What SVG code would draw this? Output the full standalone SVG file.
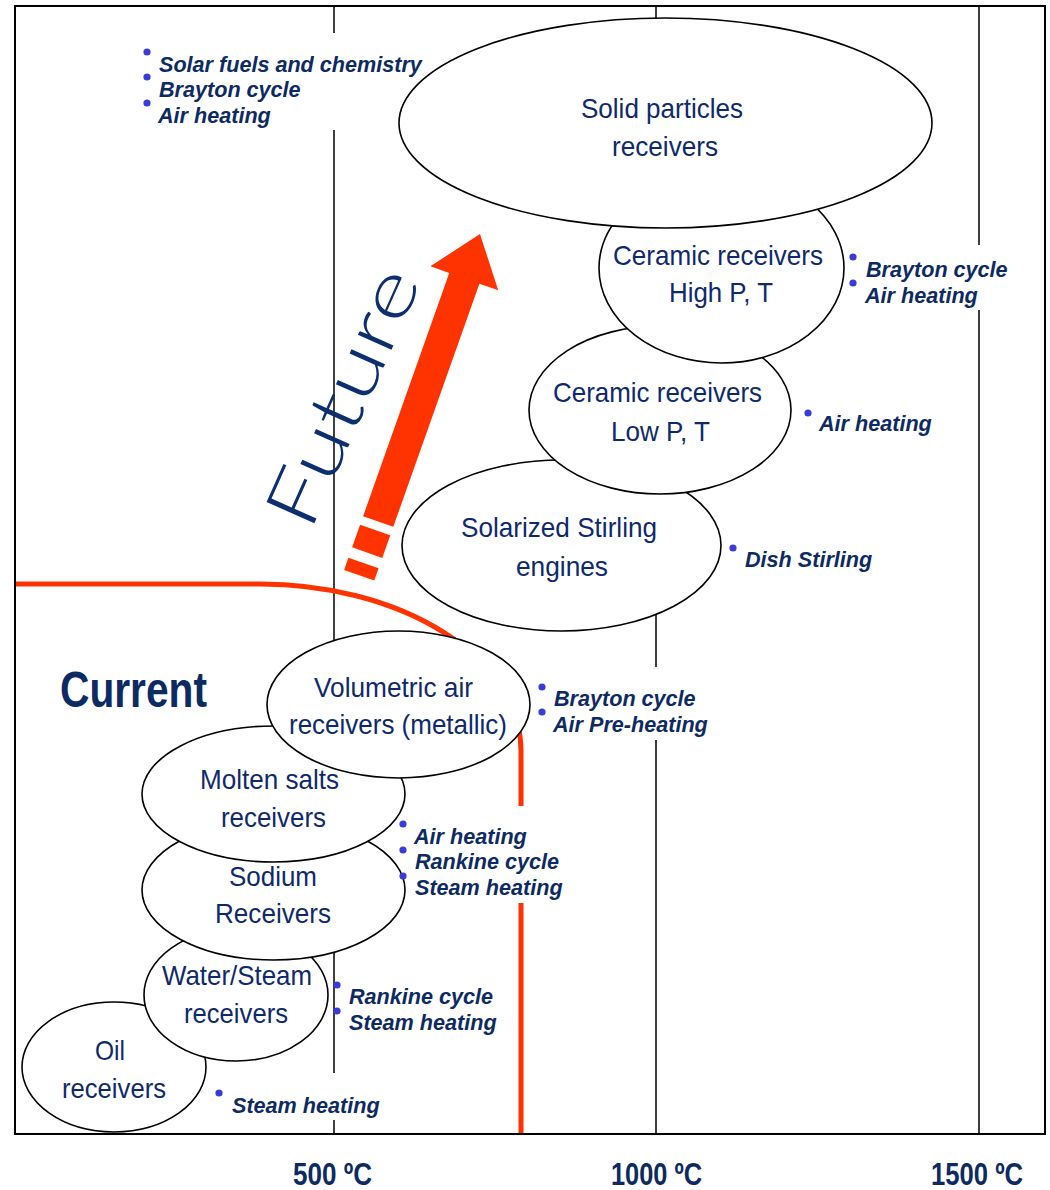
<svg xmlns="http://www.w3.org/2000/svg" width="1050" height="1190" viewBox="0 0 1050 1190">
  <style>
    .grid { stroke: #000; stroke-width: 1.5; fill: none; }
    .limit { stroke: #ff3300; stroke-width: 5; fill: none; }
    .node ellipse { fill: #fff; stroke: #000; stroke-width: 1.6; }
    .nt { font-family: "Liberation Sans", Arial, sans-serif; font-size: 28.5px; fill: #0f2a6b; text-anchor: middle; }
    .lb { font-family: "Liberation Sans", Arial, sans-serif; font-size: 21.6px; font-weight: bold; font-style: italic; fill: #0d2a62; }
    .dot { fill: #3b3bd6; }
    .ax { font-family: "Liberation Sans", Arial, sans-serif; font-size: 32px; font-weight: bold; fill: #0d2a62; text-anchor: middle; }
  </style>

  <rect width="1050" height="1190" fill="#fff"/>

  <!-- temperature grid lines and the current/future boundary -->
  <g id="connectors">
    <path class="grid" d="M334,6 V33 M334,130 V1073 M334,1120 V1134"/>
    <path class="grid" d="M656,6 V667 M656,740 V1134"/>
    <path class="grid" d="M979,6 V245 M979,310 V1134"/>
    <path class="limit" d="M15,584 H260 A261,167 0 0 1 521,751 V806 M521,903 V1134"/>
  </g>

  <!-- receiver technologies, lowest temperature first so upper ones overlap -->
  <g id="oil" class="node">
    <ellipse cx="114" cy="1067" rx="92" ry="65"/>
    <text class="nt" x="110" y="1060" textLength="30" lengthAdjust="spacingAndGlyphs">Oil</text>
    <text class="nt" x="114" y="1098" textLength="104" lengthAdjust="spacingAndGlyphs">receivers</text>
  </g>
  <g id="water-steam" class="node">
    <ellipse cx="236" cy="995" rx="92" ry="66"/>
    <text class="nt" x="237" y="985" textLength="150" lengthAdjust="spacingAndGlyphs">Water/Steam</text>
    <text class="nt" x="236" y="1023" textLength="104" lengthAdjust="spacingAndGlyphs">receivers</text>
  </g>
  <g id="sodium" class="node">
    <ellipse cx="273.5" cy="890" rx="131.5" ry="70"/>
    <text class="nt" x="273" y="886" textLength="88" lengthAdjust="spacingAndGlyphs">Sodium</text>
    <text class="nt" x="273" y="923" textLength="116" lengthAdjust="spacingAndGlyphs">Receivers</text>
  </g>
  <g id="molten-salts" class="node">
    <ellipse cx="273.5" cy="794" rx="131.5" ry="68"/>
    <text class="nt" x="269.5" y="789" textLength="139" lengthAdjust="spacingAndGlyphs">Molten salts</text>
    <text class="nt" x="273.5" y="827" textLength="105" lengthAdjust="spacingAndGlyphs">receivers</text>
  </g>
  <g id="volumetric" class="node">
    <ellipse cx="398.5" cy="704.5" rx="131.5" ry="73.5"/>
    <text class="nt" x="393.5" y="697" textLength="159" lengthAdjust="spacingAndGlyphs">Volumetric air</text>
    <text class="nt" x="398" y="734" textLength="218" lengthAdjust="spacingAndGlyphs">receivers (metallic)</text>
  </g>
  <g id="stirling" class="node">
    <ellipse cx="561.5" cy="545.5" rx="159.5" ry="85.5"/>
    <text class="nt" x="559" y="537" textLength="196" lengthAdjust="spacingAndGlyphs">Solarized Stirling</text>
    <text class="nt" x="562" y="576" textLength="92" lengthAdjust="spacingAndGlyphs">engines</text>
  </g>
  <g id="ceramic-low" class="node">
    <ellipse cx="660" cy="410" rx="131" ry="84"/>
    <text class="nt" x="657.5" y="402" textLength="209" lengthAdjust="spacingAndGlyphs">Ceramic receivers</text>
    <text class="nt" x="660.5" y="441" textLength="99" lengthAdjust="spacingAndGlyphs">Low P, T</text>
  </g>
  <g id="ceramic-high" class="node">
    <ellipse cx="721.5" cy="268" rx="122.5" ry="95"/>
    <text class="nt" x="718" y="265" textLength="210" lengthAdjust="spacingAndGlyphs">Ceramic receivers</text>
    <text class="nt" x="721" y="302" textLength="104" lengthAdjust="spacingAndGlyphs">High P, T</text>
  </g>
  <g id="solid-particles" class="node">
    <ellipse cx="665.5" cy="123" rx="266.5" ry="105"/>
    <text class="nt" x="662" y="118" textLength="162" lengthAdjust="spacingAndGlyphs">Solid particles</text>
    <text class="nt" x="665" y="156" textLength="106" lengthAdjust="spacingAndGlyphs">receivers</text>
  </g>

  <!-- applications of each receiver type -->
  <g id="uses-solid">
    <circle class="dot" cx="147" cy="52" r="3.6"/>
    <circle class="dot" cx="147" cy="77" r="3.6"/>
    <circle class="dot" cx="147" cy="103" r="3.6"/>
    <text class="lb" x="159" y="72">Solar fuels and chemistry</text>
    <text class="lb" x="159" y="97">Brayton cycle</text>
    <text class="lb" x="158" y="123">Air heating</text>
  </g>
  <g id="uses-ceramic-high">
    <circle class="dot" cx="853" cy="257" r="3.6"/>
    <circle class="dot" cx="853" cy="283" r="3.6"/>
    <text class="lb" x="866" y="277">Brayton cycle</text>
    <text class="lb" x="865" y="303">Air heating</text>
  </g>
  <g id="uses-ceramic-low">
    <circle class="dot" cx="808" cy="413" r="3.6"/>
    <text class="lb" x="819" y="431">Air heating</text>
  </g>
  <g id="uses-stirling">
    <circle class="dot" cx="733" cy="548" r="3.6"/>
    <text class="lb" x="745" y="567">Dish Stirling</text>
  </g>
  <g id="uses-volumetric">
    <circle class="dot" cx="542" cy="687" r="3.6"/>
    <circle class="dot" cx="542" cy="712" r="3.6"/>
    <text class="lb" x="554" y="706">Brayton cycle</text>
    <text class="lb" x="553" y="732">Air Pre-heating</text>
  </g>
  <g id="uses-salts-sodium">
    <circle class="dot" cx="403" cy="824" r="3.6"/>
    <circle class="dot" cx="403" cy="850" r="3.6"/>
    <circle class="dot" cx="403" cy="876" r="3.6"/>
    <text class="lb" x="414" y="844">Air heating</text>
    <text class="lb" x="415" y="869">Rankine cycle</text>
    <text class="lb" x="415" y="895">Steam heating</text>
  </g>
  <g id="uses-water">
    <circle class="dot" cx="337" cy="985" r="3.6"/>
    <circle class="dot" cx="337" cy="1011" r="3.6"/>
    <text class="lb" x="349" y="1004">Rankine cycle</text>
    <text class="lb" x="349" y="1030">Steam heating</text>
  </g>
  <g id="uses-oil">
    <circle class="dot" cx="219" cy="1093" r="3.6"/>
    <text class="lb" x="232" y="1113">Steam heating</text>
  </g>

  <!-- trend arrow with dashed tail -->
  <g id="future-arrow" fill="#ff3300" transform="translate(480,234) rotate(19.5)">
    <path d="M0,0 L36,47 L16,47 L16,305 L-16,305 L-16,47 L-36,47 Z"/>
    <rect x="-16" y="314" width="32" height="24"/>
    <rect x="-16" y="349" width="32" height="13"/>
  </g>
  <text id="future-label" transform="translate(346,398) rotate(-66)" x="0" y="22" text-anchor="middle" textLength="275" lengthAdjust="spacingAndGlyphs" font-family="Lato, 'Open Sans', 'DejaVu Sans', sans-serif" font-weight="300" font-size="74" fill="#0e2f6e">Future</text>

  <text id="current-label" x="60" y="707" textLength="147" lengthAdjust="spacingAndGlyphs" font-family="'Liberation Sans', Arial, sans-serif" font-weight="bold" font-size="50" fill="#0d2a62">Current</text>

  <!-- temperature axis -->
  <g id="axis-labels">
    <text class="ax" x="332.5" y="1185" textLength="79" lengthAdjust="spacingAndGlyphs">500 ºC</text>
    <text class="ax" x="656.5" y="1185" textLength="91" lengthAdjust="spacingAndGlyphs">1000 ºC</text>
    <text class="ax" x="977" y="1185" textLength="92" lengthAdjust="spacingAndGlyphs">1500 ºC</text>
  </g>

  <rect id="frame" x="15" y="6" width="1030" height="1128" fill="none" stroke="#000" stroke-width="2"/>
</svg>
